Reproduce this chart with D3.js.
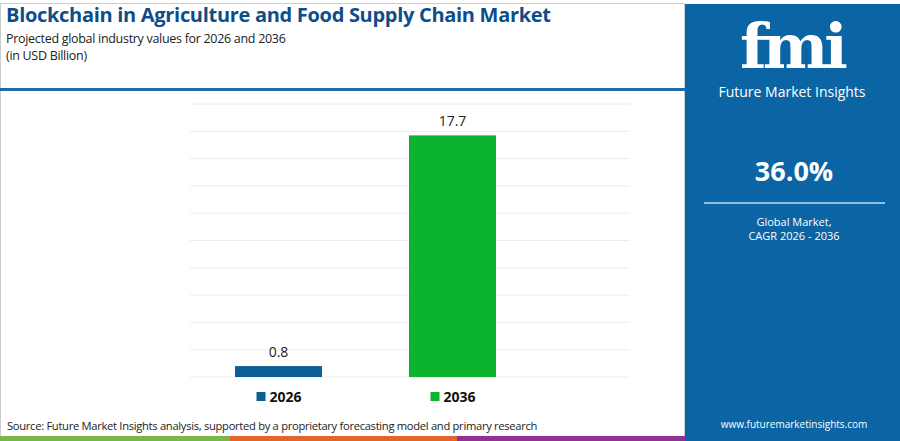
<!DOCTYPE html>
<html><head><meta charset="utf-8">
<script src="https://cdn.jsdelivr.net/npm/d3@7"></script>
<style>body{margin:0;background:#fff}svg{display:block;font-family:"Open Sans",sans-serif}</style>
</head><body><svg id="c" width="900" height="441"></svg>
<script>
var years = ["2026", "2036"];
var values = [0.8, 17.7];
var colors = ["#0b5e96", "#0bb32f"];
var svg = d3.select("#c");

// frame + header
svg.append("rect").attr("x", 0.5).attr("y", 3.5).attr("width", 684).attr("height", 437).attr("fill", "none").attr("stroke", "#ccc");
svg.append("rect").attr("x", 0).attr("y", 88).attr("width", 685).attr("height", 3).attr("fill", "#1d6aa5");
svg.append("text").attr("x", 6).attr("y", 22).attr("font-size", 20).attr("font-weight", 700).attr("fill", "#0d4e8a")
  .attr("letter-spacing", -0.3).text("Blockchain in Agriculture and Food Supply Chain Market");
svg.append("text").attr("x", 6).attr("y", 43).attr("font-size", 12.5).attr("fill", "#222").attr("letter-spacing", -0.3).text("Projected global industry values for 2026 and 2036");
svg.append("text").attr("x", 6).attr("y", 60).attr("font-size", 12.5).attr("fill", "#222").attr("letter-spacing", -0.3).text("(in USD Billion)");

// chart
var y = d3.scaleLinear().domain([0, 20]).range([377, 104]);
svg.append("g").selectAll("line").data(y.ticks(10)).join("line")
  .attr("x1", 190).attr("x2", 630).attr("y1", d => y(d)).attr("y2", d => y(d)).attr("stroke", "#ececec");
var bw = 87;
var cx = [278.5, 452.5];
svg.append("g").selectAll("rect").data(values).join("rect")
  .attr("x", (d, i) => cx[i] - bw / 2).attr("width", bw)
  .attr("y", d => y(d)).attr("height", d => y(0) - y(d)).attr("fill", (d, i) => colors[i]);
svg.append("g").selectAll("text").data(values).join("text")
  .attr("x", (d, i) => cx[i]).attr("y", d => y(d) - 9).attr("text-anchor", "middle")
  .attr("font-size", 14).attr("fill", "#222").text(d => d);
// legend
var lg = svg.append("g").selectAll("g").data(years).join("g");
lg.append("rect").attr("x", (d, i) => cx[i] - 22).attr("y", 392).attr("width", 9).attr("height", 9).attr("fill", (d, i) => colors[i]);
lg.append("text").attr("x", (d, i) => cx[i] - 9).attr("y", 402).attr("font-size", 14).attr("font-weight", 700).attr("fill", "#111").text(d => d);

svg.append("text").attr("x", 7).attr("y", 430).attr("font-size", 11.2).attr("fill", "#222").attr("letter-spacing", -0.3)
  .text("Source: Future Market Insights analysis, supported by a proprietary forecasting model and primary research");
[["#7ab648", 0, 230], ["#e8622b", 230, 457], ["#8e3391", 457, 685]].forEach(function (s) {
  svg.append("rect").attr("x", s[1]).attr("y", 436).attr("width", s[2] - s[1]).attr("height", 5).attr("fill", s[0]);
});

// side panel
svg.append("rect").attr("x", 685).attr("y", 4).attr("width", 215).attr("height", 437).attr("fill", "#0b64a4");
svg.append("text").attr("x", 792).attr("y", 68).attr("text-anchor", "middle").attr("font-size", 62).attr("font-weight", 700)
  .attr("font-family", "DejaVu Serif").attr("fill", "#fff").attr("letter-spacing", -4).text("fmi");
svg.append("text").attr("x", 792).attr("y", 97).attr("text-anchor", "middle").attr("font-size", 14).attr("fill", "#fff").text("Future Market Insights");
svg.append("text").attr("x", 794).attr("y", 181).attr("text-anchor", "middle").attr("font-size", 27).attr("font-weight", 700).attr("fill", "#fff").text("36.0%");
svg.append("rect").attr("x", 704).attr("y", 202).attr("width", 181).attr("height", 2).attr("fill", "#8ec0e6");
svg.append("text").attr("x", 794).attr("y", 226).attr("text-anchor", "middle").attr("font-size", 11).attr("fill", "#fff").text("Global Market,");
svg.append("text").attr("x", 794).attr("y", 240).attr("text-anchor", "middle").attr("font-size", 11).attr("fill", "#fff").text("CAGR 2026 - 2036");
svg.append("text").attr("x", 794).attr("y", 428).attr("text-anchor", "middle").attr("font-size", 10).attr("fill", "#fff").text("www.futuremarketinsights.com");
</script></body></html>
